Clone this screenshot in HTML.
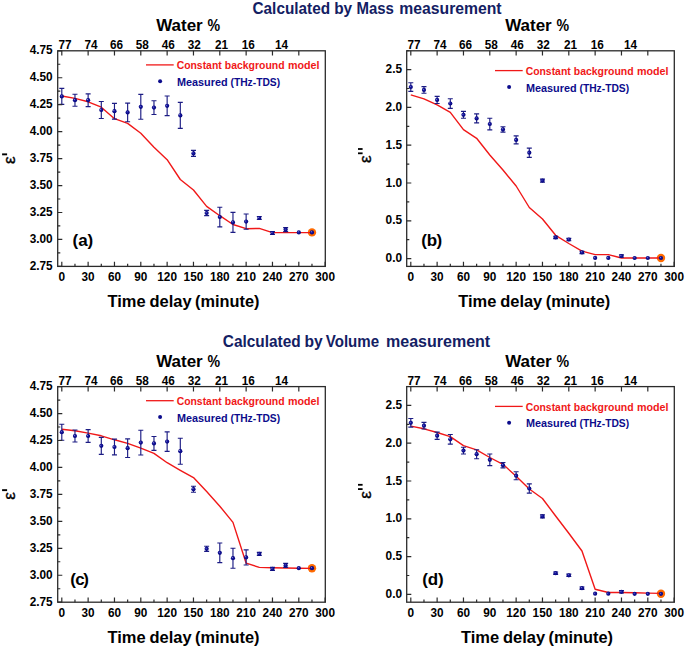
<!DOCTYPE html>
<html><head><meta charset="utf-8"><style>html,body{margin:0;padding:0;background:#fff;width:685px;height:649px;overflow:hidden}</style></head><body>
<svg width="685" height="649" viewBox="0 0 685 649" style="display:block">
<defs><radialGradient id="mk" cx="50%" cy="50%" r="50%" fx="32%" fy="32%"><stop offset="0" stop-color="#9a9ae0"/><stop offset="0.35" stop-color="#1a1aa0"/><stop offset="1" stop-color="#00007a"/></radialGradient></defs>
<g style="font-family:'Liberation Sans',sans-serif;font-weight:bold">
<circle cx="311.97" cy="232.40" r="4.2" fill="#ff6a00"/>
<polyline points="61.80,96.00 74.97,98.40 88.13,101.80 101.30,107.20 114.47,118.70 127.64,123.40 140.80,133.30 153.97,147.30 167.14,159.70 180.30,179.50 193.47,190.00 206.64,206.40 219.80,215.70 232.97,224.50 246.14,228.70 259.31,228.40 272.47,232.60 285.64,232.60 298.81,232.60 311.97,232.60" fill="none" stroke="#f01818" stroke-width="1.4" stroke-linejoin="round"/>
<path d="M61.80 88.40V104.40M59.30 88.40H64.30M59.30 104.40H64.30" stroke="#1c1c84" stroke-width="1.15" fill="none"/>
<path d="M74.97 94.20V106.20M72.47 94.20H77.47M72.47 106.20H77.47" stroke="#1c1c84" stroke-width="1.15" fill="none"/>
<path d="M88.13 93.80V106.60M85.63 93.80H90.63M85.63 106.60H90.63" stroke="#1c1c84" stroke-width="1.15" fill="none"/>
<path d="M101.30 101.50V118.50M98.80 101.50H103.80M98.80 118.50H103.80" stroke="#1c1c84" stroke-width="1.15" fill="none"/>
<path d="M114.47 103.30V119.10M111.97 103.30H116.97M111.97 119.10H116.97" stroke="#1c1c84" stroke-width="1.15" fill="none"/>
<path d="M127.64 103.10V121.70M125.14 103.10H130.13M125.14 121.70H130.13" stroke="#1c1c84" stroke-width="1.15" fill="none"/>
<path d="M140.80 94.40V119.20M138.30 94.40H143.30M138.30 119.20H143.30" stroke="#1c1c84" stroke-width="1.15" fill="none"/>
<path d="M153.97 100.70V114.50M151.47 100.70H156.47M151.47 114.50H156.47" stroke="#1c1c84" stroke-width="1.15" fill="none"/>
<path d="M167.14 96.00V115.60M164.64 96.00H169.64M164.64 115.60H169.64" stroke="#1c1c84" stroke-width="1.15" fill="none"/>
<path d="M180.30 102.40V128.40M177.80 102.40H182.80M177.80 128.40H182.80" stroke="#1c1c84" stroke-width="1.15" fill="none"/>
<path d="M193.47 150.40V156.40M190.97 150.40H195.97M190.97 156.40H195.97" stroke="#1c1c84" stroke-width="1.15" fill="none"/>
<path d="M206.64 210.40V215.60M204.14 210.40H209.14M204.14 215.60H209.14" stroke="#1c1c84" stroke-width="1.15" fill="none"/>
<path d="M219.80 207.20V226.80M217.30 207.20H222.30M217.30 226.80H222.30" stroke="#1c1c84" stroke-width="1.15" fill="none"/>
<path d="M232.97 212.40V232.40M230.47 212.40H235.47M230.47 232.40H235.47" stroke="#1c1c84" stroke-width="1.15" fill="none"/>
<path d="M246.14 214.00V229.20M243.64 214.00H248.64M243.64 229.20H248.64" stroke="#1c1c84" stroke-width="1.15" fill="none"/>
<path d="M259.31 216.50V219.50M256.81 216.50H261.81M256.81 219.50H261.81" stroke="#1c1c84" stroke-width="1.15" fill="none"/>
<path d="M272.47 231.50V234.50M269.97 231.50H274.97M269.97 234.50H274.97" stroke="#1c1c84" stroke-width="1.15" fill="none"/>
<path d="M285.64 227.60V231.60M283.14 227.60H288.14M283.14 231.60H288.14" stroke="#1c1c84" stroke-width="1.15" fill="none"/>
<circle cx="61.80" cy="96.40" r="2.1" fill="url(#mk)"/>
<circle cx="74.97" cy="100.20" r="2.1" fill="url(#mk)"/>
<circle cx="88.13" cy="100.20" r="2.1" fill="url(#mk)"/>
<circle cx="101.30" cy="110.00" r="2.1" fill="url(#mk)"/>
<circle cx="114.47" cy="111.20" r="2.1" fill="url(#mk)"/>
<circle cx="127.64" cy="112.40" r="2.1" fill="url(#mk)"/>
<circle cx="140.80" cy="106.80" r="2.1" fill="url(#mk)"/>
<circle cx="153.97" cy="107.60" r="2.1" fill="url(#mk)"/>
<circle cx="167.14" cy="105.80" r="2.1" fill="url(#mk)"/>
<circle cx="180.30" cy="115.40" r="2.1" fill="url(#mk)"/>
<circle cx="193.47" cy="153.40" r="2.1" fill="url(#mk)"/>
<circle cx="206.64" cy="213.00" r="2.1" fill="url(#mk)"/>
<circle cx="219.80" cy="217.00" r="2.1" fill="url(#mk)"/>
<circle cx="232.97" cy="222.40" r="2.1" fill="url(#mk)"/>
<circle cx="246.14" cy="221.60" r="2.1" fill="url(#mk)"/>
<circle cx="259.31" cy="218.00" r="2.1" fill="url(#mk)"/>
<circle cx="272.47" cy="233.00" r="2.1" fill="url(#mk)"/>
<circle cx="285.64" cy="229.60" r="2.1" fill="url(#mk)"/>
<circle cx="298.81" cy="232.40" r="2.1" fill="url(#mk)"/>
<circle cx="311.97" cy="232.40" r="2.1" fill="url(#mk)"/>
<rect x="57.70" y="50.80" width="267.60" height="215.60" fill="none" stroke="#2b2b2b" stroke-width="1.3"/>
<path d="M61.80 266.40V261.80 M74.97 266.40V263.80 M88.13 266.40V261.80 M101.30 266.40V263.80 M114.47 266.40V261.80 M127.64 266.40V263.80 M140.80 266.40V261.80 M153.97 266.40V263.80 M167.14 266.40V261.80 M180.30 266.40V263.80 M193.47 266.40V261.80 M206.64 266.40V263.80 M219.80 266.40V261.80 M232.97 266.40V263.80 M246.14 266.40V261.80 M259.31 266.40V263.80 M272.47 266.40V261.80 M285.64 266.40V263.80 M298.81 266.40V261.80 M311.97 266.40V263.80 M325.14 266.40V261.80 M61.80 50.80V55.60 M88.13 50.80V55.60 M114.47 50.80V55.60 M140.80 50.80V55.60 M167.14 50.80V55.60 M193.47 50.80V55.60 M219.80 50.80V55.60 M246.14 50.80V55.60 M272.47 50.80V55.60 M298.81 50.80V55.60 M57.70 266.40H62.30 M57.70 252.92H60.30 M57.70 239.45H62.30 M57.70 225.97H60.30 M57.70 212.50H62.30 M57.70 199.02H60.30 M57.70 185.55H62.30 M57.70 172.07H60.30 M57.70 158.60H62.30 M57.70 145.12H60.30 M57.70 131.65H62.30 M57.70 118.17H60.30 M57.70 104.70H62.30 M57.70 91.22H60.30 M57.70 77.75H62.30 M57.70 64.27H60.30 M57.70 50.80H62.30" stroke="#2b2b2b" stroke-width="1.2" fill="none"/>
<text x="61.80" y="280.80" font-size="12.0" fill="#000" text-anchor="middle" textLength="6.6" lengthAdjust="spacingAndGlyphs">0</text>
<text x="88.13" y="280.80" font-size="12.0" fill="#000" text-anchor="middle" textLength="13.1" lengthAdjust="spacingAndGlyphs">30</text>
<text x="114.47" y="280.80" font-size="12.0" fill="#000" text-anchor="middle" textLength="13.1" lengthAdjust="spacingAndGlyphs">60</text>
<text x="140.80" y="280.80" font-size="12.0" fill="#000" text-anchor="middle" textLength="13.1" lengthAdjust="spacingAndGlyphs">90</text>
<text x="167.14" y="280.80" font-size="12.0" fill="#000" text-anchor="middle" textLength="19.7" lengthAdjust="spacingAndGlyphs">120</text>
<text x="193.47" y="280.80" font-size="12.0" fill="#000" text-anchor="middle" textLength="19.7" lengthAdjust="spacingAndGlyphs">150</text>
<text x="219.80" y="280.80" font-size="12.0" fill="#000" text-anchor="middle" textLength="19.7" lengthAdjust="spacingAndGlyphs">180</text>
<text x="246.14" y="280.80" font-size="12.0" fill="#000" text-anchor="middle" textLength="19.7" lengthAdjust="spacingAndGlyphs">210</text>
<text x="272.47" y="280.80" font-size="12.0" fill="#000" text-anchor="middle" textLength="19.7" lengthAdjust="spacingAndGlyphs">240</text>
<text x="298.81" y="280.80" font-size="12.0" fill="#000" text-anchor="middle" textLength="19.7" lengthAdjust="spacingAndGlyphs">270</text>
<text x="325.14" y="280.80" font-size="12.0" fill="#000" text-anchor="middle" textLength="19.7" lengthAdjust="spacingAndGlyphs">300</text>
<text x="52.70" y="269.90" font-size="12.0" fill="#000" text-anchor="end" textLength="23.0" lengthAdjust="spacingAndGlyphs">2.75</text>
<text x="52.70" y="242.95" font-size="12.0" fill="#000" text-anchor="end" textLength="23.0" lengthAdjust="spacingAndGlyphs">3.00</text>
<text x="52.70" y="216.00" font-size="12.0" fill="#000" text-anchor="end" textLength="23.0" lengthAdjust="spacingAndGlyphs">3.25</text>
<text x="52.70" y="189.05" font-size="12.0" fill="#000" text-anchor="end" textLength="23.0" lengthAdjust="spacingAndGlyphs">3.50</text>
<text x="52.70" y="162.10" font-size="12.0" fill="#000" text-anchor="end" textLength="23.0" lengthAdjust="spacingAndGlyphs">3.75</text>
<text x="52.70" y="135.15" font-size="12.0" fill="#000" text-anchor="end" textLength="23.0" lengthAdjust="spacingAndGlyphs">4.00</text>
<text x="52.70" y="108.20" font-size="12.0" fill="#000" text-anchor="end" textLength="23.0" lengthAdjust="spacingAndGlyphs">4.25</text>
<text x="52.70" y="81.25" font-size="12.0" fill="#000" text-anchor="end" textLength="23.0" lengthAdjust="spacingAndGlyphs">4.50</text>
<text x="52.70" y="54.30" font-size="12.0" fill="#000" text-anchor="end" textLength="23.0" lengthAdjust="spacingAndGlyphs">4.75</text>
<text x="65.00" y="49.20" font-size="12.0" fill="#000" text-anchor="middle" textLength="13.1" lengthAdjust="spacingAndGlyphs">77</text>
<text x="91.00" y="49.20" font-size="12.0" fill="#000" text-anchor="middle" textLength="13.1" lengthAdjust="spacingAndGlyphs">74</text>
<text x="116.50" y="49.20" font-size="12.0" fill="#000" text-anchor="middle" textLength="13.1" lengthAdjust="spacingAndGlyphs">66</text>
<text x="142.30" y="49.20" font-size="12.0" fill="#000" text-anchor="middle" textLength="13.1" lengthAdjust="spacingAndGlyphs">58</text>
<text x="168.30" y="49.20" font-size="12.0" fill="#000" text-anchor="middle" textLength="13.1" lengthAdjust="spacingAndGlyphs">46</text>
<text x="194.30" y="49.20" font-size="12.0" fill="#000" text-anchor="middle" textLength="13.1" lengthAdjust="spacingAndGlyphs">32</text>
<text x="221.50" y="49.20" font-size="12.0" fill="#000" text-anchor="middle" textLength="13.1" lengthAdjust="spacingAndGlyphs">21</text>
<text x="248.30" y="49.20" font-size="12.0" fill="#000" text-anchor="middle" textLength="13.1" lengthAdjust="spacingAndGlyphs">16</text>
<text x="281.50" y="49.20" font-size="12.0" fill="#000" text-anchor="middle" textLength="13.1" lengthAdjust="spacingAndGlyphs">14</text>
<text x="156.20" y="30.90" font-size="16" fill="#000" text-anchor="start" textLength="46.5" lengthAdjust="spacingAndGlyphs">Water</text>
<text x="207.50" y="30.90" font-size="16" fill="#000" text-anchor="start" textLength="12.6" lengthAdjust="spacingAndGlyphs">%</text>
<text x="107.50" y="307.30" font-size="16" fill="#000" text-anchor="start" textLength="38.1" lengthAdjust="spacingAndGlyphs">Time</text>
<text x="149.50" y="307.30" font-size="16" fill="#000" text-anchor="start" textLength="42.1" lengthAdjust="spacingAndGlyphs">delay</text>
<text x="195.10" y="307.30" font-size="16" fill="#000" text-anchor="start" textLength="64.4" lengthAdjust="spacingAndGlyphs">(minute)</text>
<line x1="146.00" y1="64.90" x2="173.70" y2="64.90" stroke="#f01818" stroke-width="1.3"/>
<text x="176.70" y="69.10" font-size="10.5" fill="#f01818" text-anchor="start" textLength="45.0" lengthAdjust="spacingAndGlyphs">Constant</text>
<text x="224.80" y="69.10" font-size="10.5" fill="#f01818" text-anchor="start" textLength="59.8" lengthAdjust="spacingAndGlyphs">background</text>
<text x="287.90" y="69.10" font-size="10.5" fill="#f01818" text-anchor="start" textLength="31.6" lengthAdjust="spacingAndGlyphs">model</text>
<circle cx="160.10" cy="81.20" r="2.0" fill="#0c0c8c"/>
<text x="177.00" y="85.80" font-size="10.5" fill="#0c0c8c" text-anchor="start" textLength="50.6" lengthAdjust="spacingAndGlyphs">Measured</text>
<text x="230.50" y="85.80" font-size="10.5" fill="#0c0c8c" text-anchor="start" textLength="49.6" lengthAdjust="spacingAndGlyphs">(THz-TDS)</text>
<text x="75.40" y="245.90" font-size="17" fill="#000" text-anchor="middle">(</text>
<text x="82.90" y="245.90" font-size="17" fill="#000" text-anchor="middle">a</text>
<text x="90.40" y="245.90" font-size="17" fill="#000" text-anchor="middle">)</text>
<text transform="translate(15.00,163.90) rotate(-90)" font-family="Liberation Sans" font-weight="normal" font-size="17" fill="#000" stroke="#000" stroke-width="0.35">&#949;</text>
<rect x="2.10" y="153.40" width="5.0" height="1.9" fill="#000"/>
<circle cx="660.97" cy="258.00" r="4.2" fill="#ff6a00"/>
<polyline points="410.80,94.90 423.97,98.80 437.13,104.90 450.30,112.40 463.47,129.70 476.63,138.30 489.80,155.00 502.97,170.00 516.14,186.00 529.30,207.50 542.47,219.00 555.64,235.30 568.80,243.50 581.97,251.10 595.14,254.60 608.31,254.60 621.47,258.00 634.64,258.00 647.81,258.00 660.97,258.00" fill="none" stroke="#f01818" stroke-width="1.4" stroke-linejoin="round"/>
<path d="M410.80 82.70V91.30M408.30 82.70H413.30M408.30 91.30H413.30" stroke="#1c1c84" stroke-width="1.15" fill="none"/>
<path d="M423.97 86.60V93.20M421.47 86.60H426.47M421.47 93.20H426.47" stroke="#1c1c84" stroke-width="1.15" fill="none"/>
<path d="M437.13 96.30V103.50M434.63 96.30H439.63M434.63 103.50H439.63" stroke="#1c1c84" stroke-width="1.15" fill="none"/>
<path d="M450.30 98.70V108.30M447.80 98.70H452.80M447.80 108.30H452.80" stroke="#1c1c84" stroke-width="1.15" fill="none"/>
<path d="M463.47 111.40V118.20M460.97 111.40H465.97M460.97 118.20H465.97" stroke="#1c1c84" stroke-width="1.15" fill="none"/>
<path d="M476.63 113.90V122.90M474.13 113.90H479.13M474.13 122.90H479.13" stroke="#1c1c84" stroke-width="1.15" fill="none"/>
<path d="M489.80 118.20V129.80M487.30 118.20H492.30M487.30 129.80H492.30" stroke="#1c1c84" stroke-width="1.15" fill="none"/>
<path d="M502.97 126.70V132.10M500.47 126.70H505.47M500.47 132.10H505.47" stroke="#1c1c84" stroke-width="1.15" fill="none"/>
<path d="M516.14 135.90V143.90M513.64 135.90H518.64M513.64 143.90H518.64" stroke="#1c1c84" stroke-width="1.15" fill="none"/>
<path d="M529.30 148.10V157.30M526.80 148.10H531.80M526.80 157.30H531.80" stroke="#1c1c84" stroke-width="1.15" fill="none"/>
<path d="M542.47 179.10V182.10M539.97 179.10H544.97M539.97 182.10H544.97" stroke="#1c1c84" stroke-width="1.15" fill="none"/>
<path d="M555.64 236.20V238.60M553.14 236.20H558.14M553.14 238.60H558.14" stroke="#1c1c84" stroke-width="1.15" fill="none"/>
<path d="M568.80 238.30V240.70M566.30 238.30H571.30M566.30 240.70H571.30" stroke="#1c1c84" stroke-width="1.15" fill="none"/>
<path d="M581.97 251.20V253.60M579.47 251.20H584.47M579.47 253.60H584.47" stroke="#1c1c84" stroke-width="1.15" fill="none"/>
<path d="M621.47 254.80V257.20M618.97 254.80H623.97M618.97 257.20H623.97" stroke="#1c1c84" stroke-width="1.15" fill="none"/>
<circle cx="410.80" cy="87.00" r="2.1" fill="url(#mk)"/>
<circle cx="423.97" cy="89.90" r="2.1" fill="url(#mk)"/>
<circle cx="437.13" cy="99.90" r="2.1" fill="url(#mk)"/>
<circle cx="450.30" cy="103.50" r="2.1" fill="url(#mk)"/>
<circle cx="463.47" cy="114.80" r="2.1" fill="url(#mk)"/>
<circle cx="476.63" cy="118.40" r="2.1" fill="url(#mk)"/>
<circle cx="489.80" cy="124.00" r="2.1" fill="url(#mk)"/>
<circle cx="502.97" cy="129.40" r="2.1" fill="url(#mk)"/>
<circle cx="516.14" cy="139.90" r="2.1" fill="url(#mk)"/>
<circle cx="529.30" cy="152.70" r="2.1" fill="url(#mk)"/>
<circle cx="542.47" cy="180.60" r="2.1" fill="url(#mk)"/>
<circle cx="555.64" cy="237.40" r="2.1" fill="url(#mk)"/>
<circle cx="568.80" cy="239.50" r="2.1" fill="url(#mk)"/>
<circle cx="581.97" cy="252.40" r="2.1" fill="url(#mk)"/>
<circle cx="595.14" cy="257.90" r="2.1" fill="url(#mk)"/>
<circle cx="608.31" cy="257.90" r="2.1" fill="url(#mk)"/>
<circle cx="621.47" cy="256.00" r="2.1" fill="url(#mk)"/>
<circle cx="634.64" cy="258.00" r="2.1" fill="url(#mk)"/>
<circle cx="647.81" cy="258.00" r="2.1" fill="url(#mk)"/>
<circle cx="660.97" cy="258.00" r="2.1" fill="url(#mk)"/>
<rect x="406.70" y="50.80" width="267.60" height="215.60" fill="none" stroke="#2b2b2b" stroke-width="1.3"/>
<path d="M410.80 266.40V261.80 M423.97 266.40V263.80 M437.13 266.40V261.80 M450.30 266.40V263.80 M463.47 266.40V261.80 M476.63 266.40V263.80 M489.80 266.40V261.80 M502.97 266.40V263.80 M516.14 266.40V261.80 M529.30 266.40V263.80 M542.47 266.40V261.80 M555.64 266.40V263.80 M568.80 266.40V261.80 M581.97 266.40V263.80 M595.14 266.40V261.80 M608.31 266.40V263.80 M621.47 266.40V261.80 M634.64 266.40V263.80 M647.81 266.40V261.80 M660.97 266.40V263.80 M674.14 266.40V261.80 M410.80 50.80V55.60 M437.13 50.80V55.60 M463.47 50.80V55.60 M489.80 50.80V55.60 M516.14 50.80V55.60 M542.47 50.80V55.60 M568.80 50.80V55.60 M595.14 50.80V55.60 M621.47 50.80V55.60 M647.81 50.80V55.60 M406.70 258.60H411.30 M406.70 239.70H409.30 M406.70 220.80H411.30 M406.70 201.90H409.30 M406.70 183.00H411.30 M406.70 164.10H409.30 M406.70 145.20H411.30 M406.70 126.30H409.30 M406.70 107.40H411.30 M406.70 88.50H409.30 M406.70 69.60H411.30 M406.70 50.70H409.30" stroke="#2b2b2b" stroke-width="1.2" fill="none"/>
<text x="410.80" y="280.80" font-size="12.0" fill="#000" text-anchor="middle" textLength="6.6" lengthAdjust="spacingAndGlyphs">0</text>
<text x="437.13" y="280.80" font-size="12.0" fill="#000" text-anchor="middle" textLength="13.1" lengthAdjust="spacingAndGlyphs">30</text>
<text x="463.47" y="280.80" font-size="12.0" fill="#000" text-anchor="middle" textLength="13.1" lengthAdjust="spacingAndGlyphs">60</text>
<text x="489.80" y="280.80" font-size="12.0" fill="#000" text-anchor="middle" textLength="13.1" lengthAdjust="spacingAndGlyphs">90</text>
<text x="516.14" y="280.80" font-size="12.0" fill="#000" text-anchor="middle" textLength="19.7" lengthAdjust="spacingAndGlyphs">120</text>
<text x="542.47" y="280.80" font-size="12.0" fill="#000" text-anchor="middle" textLength="19.7" lengthAdjust="spacingAndGlyphs">150</text>
<text x="568.80" y="280.80" font-size="12.0" fill="#000" text-anchor="middle" textLength="19.7" lengthAdjust="spacingAndGlyphs">180</text>
<text x="595.14" y="280.80" font-size="12.0" fill="#000" text-anchor="middle" textLength="19.7" lengthAdjust="spacingAndGlyphs">210</text>
<text x="621.47" y="280.80" font-size="12.0" fill="#000" text-anchor="middle" textLength="19.7" lengthAdjust="spacingAndGlyphs">240</text>
<text x="647.81" y="280.80" font-size="12.0" fill="#000" text-anchor="middle" textLength="19.7" lengthAdjust="spacingAndGlyphs">270</text>
<text x="674.14" y="280.80" font-size="12.0" fill="#000" text-anchor="middle" textLength="19.7" lengthAdjust="spacingAndGlyphs">300</text>
<text x="402.10" y="262.10" font-size="12.0" fill="#000" text-anchor="end" textLength="16.5" lengthAdjust="spacingAndGlyphs">0.0</text>
<text x="402.10" y="224.30" font-size="12.0" fill="#000" text-anchor="end" textLength="16.5" lengthAdjust="spacingAndGlyphs">0.5</text>
<text x="402.10" y="186.50" font-size="12.0" fill="#000" text-anchor="end" textLength="16.5" lengthAdjust="spacingAndGlyphs">1.0</text>
<text x="402.10" y="148.70" font-size="12.0" fill="#000" text-anchor="end" textLength="16.5" lengthAdjust="spacingAndGlyphs">1.5</text>
<text x="402.10" y="110.90" font-size="12.0" fill="#000" text-anchor="end" textLength="16.5" lengthAdjust="spacingAndGlyphs">2.0</text>
<text x="402.10" y="73.10" font-size="12.0" fill="#000" text-anchor="end" textLength="16.5" lengthAdjust="spacingAndGlyphs">2.5</text>
<text x="414.00" y="49.20" font-size="12.0" fill="#000" text-anchor="middle" textLength="13.1" lengthAdjust="spacingAndGlyphs">77</text>
<text x="440.00" y="49.20" font-size="12.0" fill="#000" text-anchor="middle" textLength="13.1" lengthAdjust="spacingAndGlyphs">74</text>
<text x="465.50" y="49.20" font-size="12.0" fill="#000" text-anchor="middle" textLength="13.1" lengthAdjust="spacingAndGlyphs">66</text>
<text x="491.30" y="49.20" font-size="12.0" fill="#000" text-anchor="middle" textLength="13.1" lengthAdjust="spacingAndGlyphs">58</text>
<text x="517.30" y="49.20" font-size="12.0" fill="#000" text-anchor="middle" textLength="13.1" lengthAdjust="spacingAndGlyphs">46</text>
<text x="543.30" y="49.20" font-size="12.0" fill="#000" text-anchor="middle" textLength="13.1" lengthAdjust="spacingAndGlyphs">32</text>
<text x="570.50" y="49.20" font-size="12.0" fill="#000" text-anchor="middle" textLength="13.1" lengthAdjust="spacingAndGlyphs">21</text>
<text x="597.30" y="49.20" font-size="12.0" fill="#000" text-anchor="middle" textLength="13.1" lengthAdjust="spacingAndGlyphs">16</text>
<text x="630.50" y="49.20" font-size="12.0" fill="#000" text-anchor="middle" textLength="13.1" lengthAdjust="spacingAndGlyphs">14</text>
<text x="505.20" y="30.90" font-size="16" fill="#000" text-anchor="start" textLength="46.5" lengthAdjust="spacingAndGlyphs">Water</text>
<text x="556.50" y="30.90" font-size="16" fill="#000" text-anchor="start" textLength="12.6" lengthAdjust="spacingAndGlyphs">%</text>
<text x="458.20" y="307.30" font-size="16" fill="#000" text-anchor="start" textLength="38.1" lengthAdjust="spacingAndGlyphs">Time</text>
<text x="500.20" y="307.30" font-size="16" fill="#000" text-anchor="start" textLength="42.1" lengthAdjust="spacingAndGlyphs">delay</text>
<text x="545.80" y="307.30" font-size="16" fill="#000" text-anchor="start" textLength="64.4" lengthAdjust="spacingAndGlyphs">(minute)</text>
<line x1="495.00" y1="70.60" x2="522.70" y2="70.60" stroke="#f01818" stroke-width="1.3"/>
<text x="525.70" y="74.80" font-size="10.5" fill="#f01818" text-anchor="start" textLength="45.0" lengthAdjust="spacingAndGlyphs">Constant</text>
<text x="573.80" y="74.80" font-size="10.5" fill="#f01818" text-anchor="start" textLength="59.8" lengthAdjust="spacingAndGlyphs">background</text>
<text x="636.90" y="74.80" font-size="10.5" fill="#f01818" text-anchor="start" textLength="31.6" lengthAdjust="spacingAndGlyphs">model</text>
<circle cx="509.10" cy="86.90" r="2.0" fill="#0c0c8c"/>
<text x="526.00" y="91.50" font-size="10.5" fill="#0c0c8c" text-anchor="start" textLength="50.6" lengthAdjust="spacingAndGlyphs">Measured</text>
<text x="579.50" y="91.50" font-size="10.5" fill="#0c0c8c" text-anchor="start" textLength="49.6" lengthAdjust="spacingAndGlyphs">(THz-TDS)</text>
<text x="424.00" y="245.60" font-size="17" fill="#000" text-anchor="middle">(</text>
<text x="432.00" y="245.60" font-size="17" fill="#000" text-anchor="middle">b</text>
<text x="439.30" y="245.60" font-size="17" fill="#000" text-anchor="middle">)</text>
<text transform="translate(371.20,162.90) rotate(-90)" font-family="Liberation Sans" font-weight="normal" font-size="17" fill="#000" stroke="#000" stroke-width="0.35">&#949;</text>
<rect x="358.00" y="148.10" width="4.6" height="1.8" fill="#000"/>
<rect x="358.00" y="152.40" width="4.6" height="1.8" fill="#000"/>
<circle cx="311.97" cy="568.20" r="4.2" fill="#ff6a00"/>
<polyline points="61.80,429.20 74.97,430.80 88.13,433.10 101.30,435.80 114.47,439.80 127.64,443.40 140.80,448.10 153.97,453.40 167.14,462.70 180.30,470.30 193.47,477.60 206.64,491.60 219.80,506.20 232.97,522.40 246.14,563.20 259.31,567.40 272.47,567.80 285.64,568.00 298.81,568.20 311.97,568.40" fill="none" stroke="#f01818" stroke-width="1.4" stroke-linejoin="round"/>
<path d="M61.80 424.20V440.20M59.30 424.20H64.30M59.30 440.20H64.30" stroke="#1c1c84" stroke-width="1.15" fill="none"/>
<path d="M74.97 430.00V442.00M72.47 430.00H77.47M72.47 442.00H77.47" stroke="#1c1c84" stroke-width="1.15" fill="none"/>
<path d="M88.13 429.60V442.40M85.63 429.60H90.63M85.63 442.40H90.63" stroke="#1c1c84" stroke-width="1.15" fill="none"/>
<path d="M101.30 437.30V454.30M98.80 437.30H103.80M98.80 454.30H103.80" stroke="#1c1c84" stroke-width="1.15" fill="none"/>
<path d="M114.47 439.10V454.90M111.97 439.10H116.97M111.97 454.90H116.97" stroke="#1c1c84" stroke-width="1.15" fill="none"/>
<path d="M127.64 438.90V457.50M125.14 438.90H130.13M125.14 457.50H130.13" stroke="#1c1c84" stroke-width="1.15" fill="none"/>
<path d="M140.80 430.20V455.00M138.30 430.20H143.30M138.30 455.00H143.30" stroke="#1c1c84" stroke-width="1.15" fill="none"/>
<path d="M153.97 436.50V450.30M151.47 436.50H156.47M151.47 450.30H156.47" stroke="#1c1c84" stroke-width="1.15" fill="none"/>
<path d="M167.14 431.80V451.40M164.64 431.80H169.64M164.64 451.40H169.64" stroke="#1c1c84" stroke-width="1.15" fill="none"/>
<path d="M180.30 438.20V464.20M177.80 438.20H182.80M177.80 464.20H182.80" stroke="#1c1c84" stroke-width="1.15" fill="none"/>
<path d="M193.47 486.20V492.20M190.97 486.20H195.97M190.97 492.20H195.97" stroke="#1c1c84" stroke-width="1.15" fill="none"/>
<path d="M206.64 546.20V551.40M204.14 546.20H209.14M204.14 551.40H209.14" stroke="#1c1c84" stroke-width="1.15" fill="none"/>
<path d="M219.80 543.00V562.60M217.30 543.00H222.30M217.30 562.60H222.30" stroke="#1c1c84" stroke-width="1.15" fill="none"/>
<path d="M232.97 548.20V568.20M230.47 548.20H235.47M230.47 568.20H235.47" stroke="#1c1c84" stroke-width="1.15" fill="none"/>
<path d="M246.14 549.80V565.00M243.64 549.80H248.64M243.64 565.00H248.64" stroke="#1c1c84" stroke-width="1.15" fill="none"/>
<path d="M259.31 552.30V555.30M256.81 552.30H261.81M256.81 555.30H261.81" stroke="#1c1c84" stroke-width="1.15" fill="none"/>
<path d="M272.47 567.30V570.30M269.97 567.30H274.97M269.97 570.30H274.97" stroke="#1c1c84" stroke-width="1.15" fill="none"/>
<path d="M285.64 563.40V567.40M283.14 563.40H288.14M283.14 567.40H288.14" stroke="#1c1c84" stroke-width="1.15" fill="none"/>
<circle cx="61.80" cy="432.20" r="2.1" fill="url(#mk)"/>
<circle cx="74.97" cy="436.00" r="2.1" fill="url(#mk)"/>
<circle cx="88.13" cy="436.00" r="2.1" fill="url(#mk)"/>
<circle cx="101.30" cy="445.80" r="2.1" fill="url(#mk)"/>
<circle cx="114.47" cy="447.00" r="2.1" fill="url(#mk)"/>
<circle cx="127.64" cy="448.20" r="2.1" fill="url(#mk)"/>
<circle cx="140.80" cy="442.60" r="2.1" fill="url(#mk)"/>
<circle cx="153.97" cy="443.40" r="2.1" fill="url(#mk)"/>
<circle cx="167.14" cy="441.60" r="2.1" fill="url(#mk)"/>
<circle cx="180.30" cy="451.20" r="2.1" fill="url(#mk)"/>
<circle cx="193.47" cy="489.20" r="2.1" fill="url(#mk)"/>
<circle cx="206.64" cy="548.80" r="2.1" fill="url(#mk)"/>
<circle cx="219.80" cy="552.80" r="2.1" fill="url(#mk)"/>
<circle cx="232.97" cy="558.20" r="2.1" fill="url(#mk)"/>
<circle cx="246.14" cy="557.40" r="2.1" fill="url(#mk)"/>
<circle cx="259.31" cy="553.80" r="2.1" fill="url(#mk)"/>
<circle cx="272.47" cy="568.80" r="2.1" fill="url(#mk)"/>
<circle cx="285.64" cy="565.40" r="2.1" fill="url(#mk)"/>
<circle cx="298.81" cy="568.20" r="2.1" fill="url(#mk)"/>
<circle cx="311.97" cy="568.20" r="2.1" fill="url(#mk)"/>
<rect x="57.70" y="386.60" width="267.60" height="215.60" fill="none" stroke="#2b2b2b" stroke-width="1.3"/>
<path d="M61.80 602.20V597.60 M74.97 602.20V599.60 M88.13 602.20V597.60 M101.30 602.20V599.60 M114.47 602.20V597.60 M127.64 602.20V599.60 M140.80 602.20V597.60 M153.97 602.20V599.60 M167.14 602.20V597.60 M180.30 602.20V599.60 M193.47 602.20V597.60 M206.64 602.20V599.60 M219.80 602.20V597.60 M232.97 602.20V599.60 M246.14 602.20V597.60 M259.31 602.20V599.60 M272.47 602.20V597.60 M285.64 602.20V599.60 M298.81 602.20V597.60 M311.97 602.20V599.60 M325.14 602.20V597.60 M61.80 386.60V391.40 M88.13 386.60V391.40 M114.47 386.60V391.40 M140.80 386.60V391.40 M167.14 386.60V391.40 M193.47 386.60V391.40 M219.80 386.60V391.40 M246.14 386.60V391.40 M272.47 386.60V391.40 M298.81 386.60V391.40 M57.70 602.20H62.30 M57.70 588.73H60.30 M57.70 575.25H62.30 M57.70 561.77H60.30 M57.70 548.30H62.30 M57.70 534.83H60.30 M57.70 521.35H62.30 M57.70 507.88H60.30 M57.70 494.40H62.30 M57.70 480.93H60.30 M57.70 467.45H62.30 M57.70 453.98H60.30 M57.70 440.50H62.30 M57.70 427.02H60.30 M57.70 413.55H62.30 M57.70 400.07H60.30 M57.70 386.60H62.30" stroke="#2b2b2b" stroke-width="1.2" fill="none"/>
<text x="61.80" y="616.60" font-size="12.0" fill="#000" text-anchor="middle" textLength="6.6" lengthAdjust="spacingAndGlyphs">0</text>
<text x="88.13" y="616.60" font-size="12.0" fill="#000" text-anchor="middle" textLength="13.1" lengthAdjust="spacingAndGlyphs">30</text>
<text x="114.47" y="616.60" font-size="12.0" fill="#000" text-anchor="middle" textLength="13.1" lengthAdjust="spacingAndGlyphs">60</text>
<text x="140.80" y="616.60" font-size="12.0" fill="#000" text-anchor="middle" textLength="13.1" lengthAdjust="spacingAndGlyphs">90</text>
<text x="167.14" y="616.60" font-size="12.0" fill="#000" text-anchor="middle" textLength="19.7" lengthAdjust="spacingAndGlyphs">120</text>
<text x="193.47" y="616.60" font-size="12.0" fill="#000" text-anchor="middle" textLength="19.7" lengthAdjust="spacingAndGlyphs">150</text>
<text x="219.80" y="616.60" font-size="12.0" fill="#000" text-anchor="middle" textLength="19.7" lengthAdjust="spacingAndGlyphs">180</text>
<text x="246.14" y="616.60" font-size="12.0" fill="#000" text-anchor="middle" textLength="19.7" lengthAdjust="spacingAndGlyphs">210</text>
<text x="272.47" y="616.60" font-size="12.0" fill="#000" text-anchor="middle" textLength="19.7" lengthAdjust="spacingAndGlyphs">240</text>
<text x="298.81" y="616.60" font-size="12.0" fill="#000" text-anchor="middle" textLength="19.7" lengthAdjust="spacingAndGlyphs">270</text>
<text x="325.14" y="616.60" font-size="12.0" fill="#000" text-anchor="middle" textLength="19.7" lengthAdjust="spacingAndGlyphs">300</text>
<text x="52.70" y="605.70" font-size="12.0" fill="#000" text-anchor="end" textLength="23.0" lengthAdjust="spacingAndGlyphs">2.75</text>
<text x="52.70" y="578.75" font-size="12.0" fill="#000" text-anchor="end" textLength="23.0" lengthAdjust="spacingAndGlyphs">3.00</text>
<text x="52.70" y="551.80" font-size="12.0" fill="#000" text-anchor="end" textLength="23.0" lengthAdjust="spacingAndGlyphs">3.25</text>
<text x="52.70" y="524.85" font-size="12.0" fill="#000" text-anchor="end" textLength="23.0" lengthAdjust="spacingAndGlyphs">3.50</text>
<text x="52.70" y="497.90" font-size="12.0" fill="#000" text-anchor="end" textLength="23.0" lengthAdjust="spacingAndGlyphs">3.75</text>
<text x="52.70" y="470.95" font-size="12.0" fill="#000" text-anchor="end" textLength="23.0" lengthAdjust="spacingAndGlyphs">4.00</text>
<text x="52.70" y="444.00" font-size="12.0" fill="#000" text-anchor="end" textLength="23.0" lengthAdjust="spacingAndGlyphs">4.25</text>
<text x="52.70" y="417.05" font-size="12.0" fill="#000" text-anchor="end" textLength="23.0" lengthAdjust="spacingAndGlyphs">4.50</text>
<text x="52.70" y="390.10" font-size="12.0" fill="#000" text-anchor="end" textLength="23.0" lengthAdjust="spacingAndGlyphs">4.75</text>
<text x="65.00" y="385.00" font-size="12.0" fill="#000" text-anchor="middle" textLength="13.1" lengthAdjust="spacingAndGlyphs">77</text>
<text x="91.00" y="385.00" font-size="12.0" fill="#000" text-anchor="middle" textLength="13.1" lengthAdjust="spacingAndGlyphs">74</text>
<text x="116.50" y="385.00" font-size="12.0" fill="#000" text-anchor="middle" textLength="13.1" lengthAdjust="spacingAndGlyphs">66</text>
<text x="142.30" y="385.00" font-size="12.0" fill="#000" text-anchor="middle" textLength="13.1" lengthAdjust="spacingAndGlyphs">58</text>
<text x="168.30" y="385.00" font-size="12.0" fill="#000" text-anchor="middle" textLength="13.1" lengthAdjust="spacingAndGlyphs">46</text>
<text x="194.30" y="385.00" font-size="12.0" fill="#000" text-anchor="middle" textLength="13.1" lengthAdjust="spacingAndGlyphs">32</text>
<text x="221.50" y="385.00" font-size="12.0" fill="#000" text-anchor="middle" textLength="13.1" lengthAdjust="spacingAndGlyphs">21</text>
<text x="248.30" y="385.00" font-size="12.0" fill="#000" text-anchor="middle" textLength="13.1" lengthAdjust="spacingAndGlyphs">16</text>
<text x="281.50" y="385.00" font-size="12.0" fill="#000" text-anchor="middle" textLength="13.1" lengthAdjust="spacingAndGlyphs">14</text>
<text x="156.20" y="366.70" font-size="16" fill="#000" text-anchor="start" textLength="46.5" lengthAdjust="spacingAndGlyphs">Water</text>
<text x="207.50" y="366.70" font-size="16" fill="#000" text-anchor="start" textLength="12.6" lengthAdjust="spacingAndGlyphs">%</text>
<text x="107.50" y="643.10" font-size="16" fill="#000" text-anchor="start" textLength="38.1" lengthAdjust="spacingAndGlyphs">Time</text>
<text x="149.50" y="643.10" font-size="16" fill="#000" text-anchor="start" textLength="42.1" lengthAdjust="spacingAndGlyphs">delay</text>
<text x="195.10" y="643.10" font-size="16" fill="#000" text-anchor="start" textLength="64.4" lengthAdjust="spacingAndGlyphs">(minute)</text>
<line x1="146.00" y1="400.70" x2="173.70" y2="400.70" stroke="#f01818" stroke-width="1.3"/>
<text x="176.70" y="404.90" font-size="10.5" fill="#f01818" text-anchor="start" textLength="45.0" lengthAdjust="spacingAndGlyphs">Constant</text>
<text x="224.80" y="404.90" font-size="10.5" fill="#f01818" text-anchor="start" textLength="59.8" lengthAdjust="spacingAndGlyphs">background</text>
<text x="287.90" y="404.90" font-size="10.5" fill="#f01818" text-anchor="start" textLength="31.6" lengthAdjust="spacingAndGlyphs">model</text>
<circle cx="160.10" cy="417.00" r="2.0" fill="#0c0c8c"/>
<text x="177.00" y="421.60" font-size="10.5" fill="#0c0c8c" text-anchor="start" textLength="50.6" lengthAdjust="spacingAndGlyphs">Measured</text>
<text x="230.50" y="421.60" font-size="10.5" fill="#0c0c8c" text-anchor="start" textLength="49.6" lengthAdjust="spacingAndGlyphs">(THz-TDS)</text>
<text x="73.00" y="584.60" font-size="17" fill="#000" text-anchor="middle">(</text>
<text x="79.90" y="584.60" font-size="17" fill="#000" text-anchor="middle">c</text>
<text x="86.20" y="584.60" font-size="17" fill="#000" text-anchor="middle">)</text>
<text transform="translate(15.00,499.70) rotate(-90)" font-family="Liberation Sans" font-weight="normal" font-size="17" fill="#000" stroke="#000" stroke-width="0.35">&#949;</text>
<rect x="2.10" y="489.20" width="5.0" height="1.9" fill="#000"/>
<circle cx="660.97" cy="593.80" r="4.2" fill="#ff6a00"/>
<polyline points="410.80,426.10 423.97,428.80 437.13,432.50 450.30,436.60 463.47,445.60 476.63,449.80 489.80,457.50 502.97,464.30 516.14,476.20 529.30,489.00 542.47,498.50 555.64,516.00 568.80,533.20 581.97,551.00 595.14,589.20 608.31,592.50 621.47,592.50 634.64,592.80 647.81,593.10 660.97,593.40" fill="none" stroke="#f01818" stroke-width="1.4" stroke-linejoin="round"/>
<path d="M410.80 418.50V427.10M408.30 418.50H413.30M408.30 427.10H413.30" stroke="#1c1c84" stroke-width="1.15" fill="none"/>
<path d="M423.97 422.40V429.00M421.47 422.40H426.47M421.47 429.00H426.47" stroke="#1c1c84" stroke-width="1.15" fill="none"/>
<path d="M437.13 432.10V439.30M434.63 432.10H439.63M434.63 439.30H439.63" stroke="#1c1c84" stroke-width="1.15" fill="none"/>
<path d="M450.30 434.50V444.10M447.80 434.50H452.80M447.80 444.10H452.80" stroke="#1c1c84" stroke-width="1.15" fill="none"/>
<path d="M463.47 447.20V454.00M460.97 447.20H465.97M460.97 454.00H465.97" stroke="#1c1c84" stroke-width="1.15" fill="none"/>
<path d="M476.63 449.70V458.70M474.13 449.70H479.13M474.13 458.70H479.13" stroke="#1c1c84" stroke-width="1.15" fill="none"/>
<path d="M489.80 454.00V465.60M487.30 454.00H492.30M487.30 465.60H492.30" stroke="#1c1c84" stroke-width="1.15" fill="none"/>
<path d="M502.97 462.50V467.90M500.47 462.50H505.47M500.47 467.90H505.47" stroke="#1c1c84" stroke-width="1.15" fill="none"/>
<path d="M516.14 471.70V479.70M513.64 471.70H518.64M513.64 479.70H518.64" stroke="#1c1c84" stroke-width="1.15" fill="none"/>
<path d="M529.30 483.90V493.10M526.80 483.90H531.80M526.80 493.10H531.80" stroke="#1c1c84" stroke-width="1.15" fill="none"/>
<path d="M542.47 514.90V517.90M539.97 514.90H544.97M539.97 517.90H544.97" stroke="#1c1c84" stroke-width="1.15" fill="none"/>
<path d="M555.64 572.00V574.40M553.14 572.00H558.14M553.14 574.40H558.14" stroke="#1c1c84" stroke-width="1.15" fill="none"/>
<path d="M568.80 574.10V576.50M566.30 574.10H571.30M566.30 576.50H571.30" stroke="#1c1c84" stroke-width="1.15" fill="none"/>
<path d="M581.97 587.00V589.40M579.47 587.00H584.47M579.47 589.40H584.47" stroke="#1c1c84" stroke-width="1.15" fill="none"/>
<path d="M621.47 590.60V593.00M618.97 590.60H623.97M618.97 593.00H623.97" stroke="#1c1c84" stroke-width="1.15" fill="none"/>
<circle cx="410.80" cy="422.80" r="2.1" fill="url(#mk)"/>
<circle cx="423.97" cy="425.70" r="2.1" fill="url(#mk)"/>
<circle cx="437.13" cy="435.70" r="2.1" fill="url(#mk)"/>
<circle cx="450.30" cy="439.30" r="2.1" fill="url(#mk)"/>
<circle cx="463.47" cy="450.60" r="2.1" fill="url(#mk)"/>
<circle cx="476.63" cy="454.20" r="2.1" fill="url(#mk)"/>
<circle cx="489.80" cy="459.80" r="2.1" fill="url(#mk)"/>
<circle cx="502.97" cy="465.20" r="2.1" fill="url(#mk)"/>
<circle cx="516.14" cy="475.70" r="2.1" fill="url(#mk)"/>
<circle cx="529.30" cy="488.50" r="2.1" fill="url(#mk)"/>
<circle cx="542.47" cy="516.40" r="2.1" fill="url(#mk)"/>
<circle cx="555.64" cy="573.20" r="2.1" fill="url(#mk)"/>
<circle cx="568.80" cy="575.30" r="2.1" fill="url(#mk)"/>
<circle cx="581.97" cy="588.20" r="2.1" fill="url(#mk)"/>
<circle cx="595.14" cy="593.70" r="2.1" fill="url(#mk)"/>
<circle cx="608.31" cy="593.70" r="2.1" fill="url(#mk)"/>
<circle cx="621.47" cy="591.80" r="2.1" fill="url(#mk)"/>
<circle cx="634.64" cy="593.80" r="2.1" fill="url(#mk)"/>
<circle cx="647.81" cy="593.80" r="2.1" fill="url(#mk)"/>
<circle cx="660.97" cy="593.80" r="2.1" fill="url(#mk)"/>
<rect x="406.70" y="386.60" width="267.60" height="215.60" fill="none" stroke="#2b2b2b" stroke-width="1.3"/>
<path d="M410.80 602.20V597.60 M423.97 602.20V599.60 M437.13 602.20V597.60 M450.30 602.20V599.60 M463.47 602.20V597.60 M476.63 602.20V599.60 M489.80 602.20V597.60 M502.97 602.20V599.60 M516.14 602.20V597.60 M529.30 602.20V599.60 M542.47 602.20V597.60 M555.64 602.20V599.60 M568.80 602.20V597.60 M581.97 602.20V599.60 M595.14 602.20V597.60 M608.31 602.20V599.60 M621.47 602.20V597.60 M634.64 602.20V599.60 M647.81 602.20V597.60 M660.97 602.20V599.60 M674.14 602.20V597.60 M410.80 386.60V391.40 M437.13 386.60V391.40 M463.47 386.60V391.40 M489.80 386.60V391.40 M516.14 386.60V391.40 M542.47 386.60V391.40 M568.80 386.60V391.40 M595.14 386.60V391.40 M621.47 386.60V391.40 M647.81 386.60V391.40 M406.70 594.40H411.30 M406.70 575.50H409.30 M406.70 556.60H411.30 M406.70 537.70H409.30 M406.70 518.80H411.30 M406.70 499.90H409.30 M406.70 481.00H411.30 M406.70 462.10H409.30 M406.70 443.20H411.30 M406.70 424.30H409.30 M406.70 405.40H411.30 M406.70 386.50H409.30" stroke="#2b2b2b" stroke-width="1.2" fill="none"/>
<text x="410.80" y="616.60" font-size="12.0" fill="#000" text-anchor="middle" textLength="6.6" lengthAdjust="spacingAndGlyphs">0</text>
<text x="437.13" y="616.60" font-size="12.0" fill="#000" text-anchor="middle" textLength="13.1" lengthAdjust="spacingAndGlyphs">30</text>
<text x="463.47" y="616.60" font-size="12.0" fill="#000" text-anchor="middle" textLength="13.1" lengthAdjust="spacingAndGlyphs">60</text>
<text x="489.80" y="616.60" font-size="12.0" fill="#000" text-anchor="middle" textLength="13.1" lengthAdjust="spacingAndGlyphs">90</text>
<text x="516.14" y="616.60" font-size="12.0" fill="#000" text-anchor="middle" textLength="19.7" lengthAdjust="spacingAndGlyphs">120</text>
<text x="542.47" y="616.60" font-size="12.0" fill="#000" text-anchor="middle" textLength="19.7" lengthAdjust="spacingAndGlyphs">150</text>
<text x="568.80" y="616.60" font-size="12.0" fill="#000" text-anchor="middle" textLength="19.7" lengthAdjust="spacingAndGlyphs">180</text>
<text x="595.14" y="616.60" font-size="12.0" fill="#000" text-anchor="middle" textLength="19.7" lengthAdjust="spacingAndGlyphs">210</text>
<text x="621.47" y="616.60" font-size="12.0" fill="#000" text-anchor="middle" textLength="19.7" lengthAdjust="spacingAndGlyphs">240</text>
<text x="647.81" y="616.60" font-size="12.0" fill="#000" text-anchor="middle" textLength="19.7" lengthAdjust="spacingAndGlyphs">270</text>
<text x="674.14" y="616.60" font-size="12.0" fill="#000" text-anchor="middle" textLength="19.7" lengthAdjust="spacingAndGlyphs">300</text>
<text x="402.10" y="597.90" font-size="12.0" fill="#000" text-anchor="end" textLength="16.5" lengthAdjust="spacingAndGlyphs">0.0</text>
<text x="402.10" y="560.10" font-size="12.0" fill="#000" text-anchor="end" textLength="16.5" lengthAdjust="spacingAndGlyphs">0.5</text>
<text x="402.10" y="522.30" font-size="12.0" fill="#000" text-anchor="end" textLength="16.5" lengthAdjust="spacingAndGlyphs">1.0</text>
<text x="402.10" y="484.50" font-size="12.0" fill="#000" text-anchor="end" textLength="16.5" lengthAdjust="spacingAndGlyphs">1.5</text>
<text x="402.10" y="446.70" font-size="12.0" fill="#000" text-anchor="end" textLength="16.5" lengthAdjust="spacingAndGlyphs">2.0</text>
<text x="402.10" y="408.90" font-size="12.0" fill="#000" text-anchor="end" textLength="16.5" lengthAdjust="spacingAndGlyphs">2.5</text>
<text x="414.00" y="385.00" font-size="12.0" fill="#000" text-anchor="middle" textLength="13.1" lengthAdjust="spacingAndGlyphs">77</text>
<text x="440.00" y="385.00" font-size="12.0" fill="#000" text-anchor="middle" textLength="13.1" lengthAdjust="spacingAndGlyphs">74</text>
<text x="465.50" y="385.00" font-size="12.0" fill="#000" text-anchor="middle" textLength="13.1" lengthAdjust="spacingAndGlyphs">66</text>
<text x="491.30" y="385.00" font-size="12.0" fill="#000" text-anchor="middle" textLength="13.1" lengthAdjust="spacingAndGlyphs">58</text>
<text x="517.30" y="385.00" font-size="12.0" fill="#000" text-anchor="middle" textLength="13.1" lengthAdjust="spacingAndGlyphs">46</text>
<text x="543.30" y="385.00" font-size="12.0" fill="#000" text-anchor="middle" textLength="13.1" lengthAdjust="spacingAndGlyphs">32</text>
<text x="570.50" y="385.00" font-size="12.0" fill="#000" text-anchor="middle" textLength="13.1" lengthAdjust="spacingAndGlyphs">21</text>
<text x="597.30" y="385.00" font-size="12.0" fill="#000" text-anchor="middle" textLength="13.1" lengthAdjust="spacingAndGlyphs">16</text>
<text x="630.50" y="385.00" font-size="12.0" fill="#000" text-anchor="middle" textLength="13.1" lengthAdjust="spacingAndGlyphs">14</text>
<text x="505.20" y="366.70" font-size="16" fill="#000" text-anchor="start" textLength="46.5" lengthAdjust="spacingAndGlyphs">Water</text>
<text x="556.50" y="366.70" font-size="16" fill="#000" text-anchor="start" textLength="12.6" lengthAdjust="spacingAndGlyphs">%</text>
<text x="461.00" y="643.10" font-size="16" fill="#000" text-anchor="start" textLength="38.1" lengthAdjust="spacingAndGlyphs">Time</text>
<text x="503.00" y="643.10" font-size="16" fill="#000" text-anchor="start" textLength="42.1" lengthAdjust="spacingAndGlyphs">delay</text>
<text x="548.60" y="643.10" font-size="16" fill="#000" text-anchor="start" textLength="64.4" lengthAdjust="spacingAndGlyphs">(minute)</text>
<line x1="495.00" y1="406.40" x2="522.70" y2="406.40" stroke="#f01818" stroke-width="1.3"/>
<text x="525.70" y="410.60" font-size="10.5" fill="#f01818" text-anchor="start" textLength="45.0" lengthAdjust="spacingAndGlyphs">Constant</text>
<text x="573.80" y="410.60" font-size="10.5" fill="#f01818" text-anchor="start" textLength="59.8" lengthAdjust="spacingAndGlyphs">background</text>
<text x="636.90" y="410.60" font-size="10.5" fill="#f01818" text-anchor="start" textLength="31.6" lengthAdjust="spacingAndGlyphs">model</text>
<circle cx="509.10" cy="422.70" r="2.0" fill="#0c0c8c"/>
<text x="526.00" y="427.30" font-size="10.5" fill="#0c0c8c" text-anchor="start" textLength="50.6" lengthAdjust="spacingAndGlyphs">Measured</text>
<text x="579.50" y="427.30" font-size="10.5" fill="#0c0c8c" text-anchor="start" textLength="49.6" lengthAdjust="spacingAndGlyphs">(THz-TDS)</text>
<text x="425.20" y="584.60" font-size="17" fill="#000" text-anchor="middle">(</text>
<text x="432.90" y="584.60" font-size="17" fill="#000" text-anchor="middle">d</text>
<text x="440.90" y="584.60" font-size="17" fill="#000" text-anchor="middle">)</text>
<text transform="translate(371.20,498.70) rotate(-90)" font-family="Liberation Sans" font-weight="normal" font-size="17" fill="#000" stroke="#000" stroke-width="0.35">&#949;</text>
<rect x="358.00" y="483.90" width="4.6" height="1.8" fill="#000"/>
<rect x="358.00" y="488.20" width="4.6" height="1.8" fill="#000"/>
<text x="252.50" y="13.90" font-size="16" fill="#132063" text-anchor="start" textLength="77.6" lengthAdjust="spacingAndGlyphs">Calculated</text>
<text x="334.20" y="13.90" font-size="16" fill="#132063" text-anchor="start" textLength="18.0" lengthAdjust="spacingAndGlyphs">by</text>
<text x="356.50" y="13.90" font-size="16" fill="#132063" text-anchor="start" textLength="37.4" lengthAdjust="spacingAndGlyphs">Mass</text>
<text x="399.30" y="13.90" font-size="16" fill="#132063" text-anchor="start" textLength="102.3" lengthAdjust="spacingAndGlyphs">measurement</text>
<text x="222.80" y="346.70" font-size="16" fill="#132063" text-anchor="start" textLength="77.8" lengthAdjust="spacingAndGlyphs">Calculated</text>
<text x="304.60" y="346.70" font-size="16" fill="#132063" text-anchor="start" textLength="18.2" lengthAdjust="spacingAndGlyphs">by</text>
<text x="325.80" y="346.70" font-size="16" fill="#132063" text-anchor="start" textLength="53.3" lengthAdjust="spacingAndGlyphs">Volume</text>
<text x="386.00" y="346.70" font-size="16" fill="#132063" text-anchor="start" textLength="104.2" lengthAdjust="spacingAndGlyphs">measurement</text>
</g></svg>
</body></html>
